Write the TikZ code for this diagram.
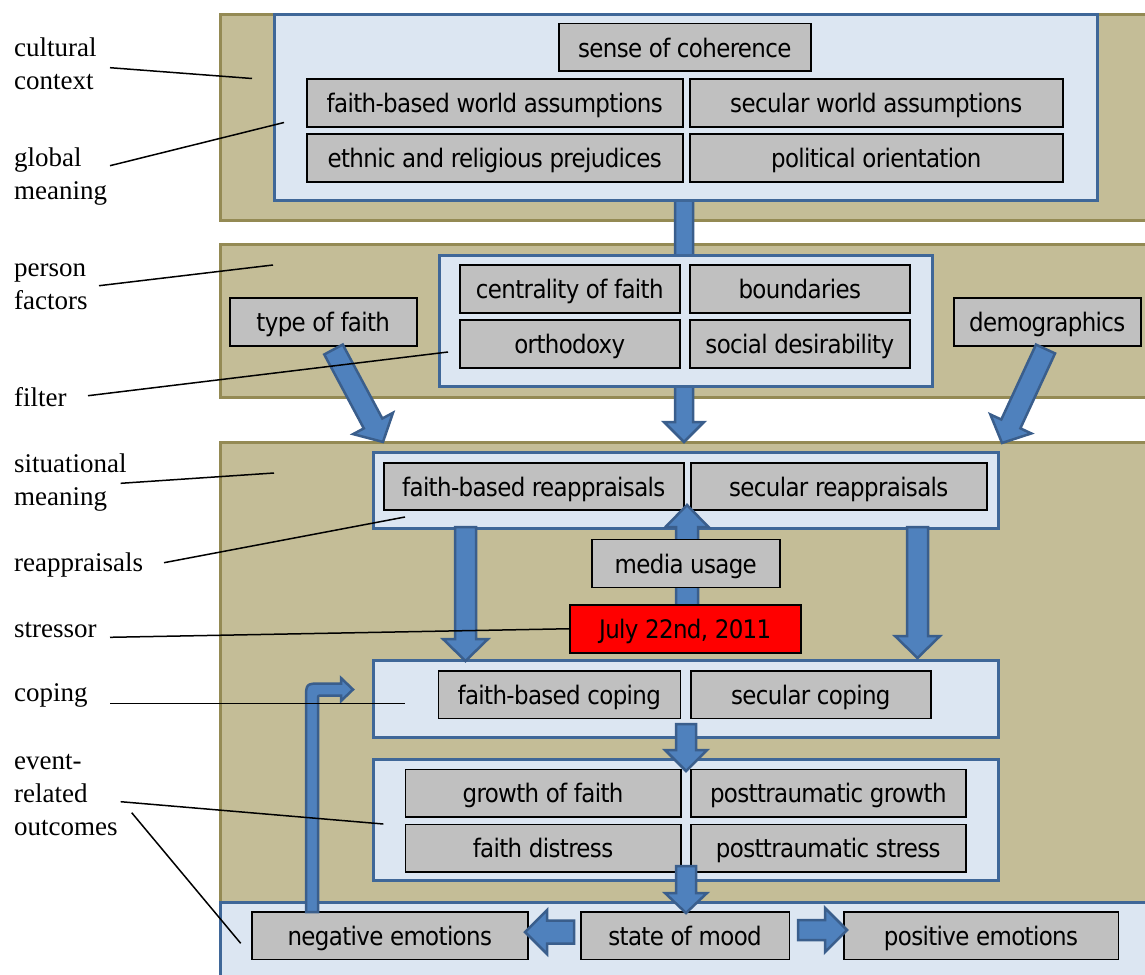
\documentclass[tikz,border=0pt]{standalone}
\usepackage{fontspec}
\setmainfont{Liberation Serif}
\newfontfamily\boxfont[LetterSpace=-2.5]{DejaVu Sans Condensed}
\usetikzlibrary{calc}
\definecolor{panelfill}{HTML}{C4BD97}
\definecolor{panelline}{HTML}{948A54}
\definecolor{bbfill}{HTML}{DCE6F2}
\definecolor{bbline}{HTML}{3F6798}
\definecolor{gfill}{HTML}{C0C0C0}
\definecolor{arrfill}{HTML}{4F81BD}
\definecolor{arrline}{HTML}{3A5E8C}
\newcommand\twol[2]{\vtop{\baselineskip=33pt\hbox{#1}\hbox{#2}}}
\newcommand\threel[3]{\vtop{\baselineskip=33pt\hbox{#1}\hbox{#2}\hbox{#3}}}
\tikzset{
  panel/.style={rectangle, draw=panelline, fill=panelfill, line width=3pt, inner sep=0pt, anchor=north west},
  bbox/.style={rectangle, draw=bbline, fill=bbfill, line width=3pt, inner sep=0pt, anchor=north west},
  gbox/.style={rectangle, draw=black, fill=gfill, line width=1.5pt, inner sep=0pt, anchor=north west,
    font=\boxfont\fontsize{25.5}{29}\selectfont, text height=19.8pt, text depth=0pt},
  rbox/.style={gbox, fill=red},
  lbl/.style={inner sep=0pt, anchor=base west, font=\fontsize{27}{33}\selectfont},
  pointer/.style={draw=black, line width=1.5pt},
  barr/.style={fill=arrfill, draw=arrline, line width=2.5pt, line join=miter}
}
% block arrow: start, end, shaft half width, head half width, head length
\newcommand\barrow[5]{%
  \draw[barr] let \p1=(#1), \p2=(#2), \n1={atan2(\y2-\y1,\x2-\x1)}, \n2={veclen(\x2-\x1,\y2-\y1)} in
    [shift={(\p1)}, rotate=\n1]
    (0pt,#3pt) -- ({\n2-#5pt},#3pt) -- ({\n2-#5pt},#4pt) -- (\n2,0pt) -- ({\n2-#5pt},-#4pt)
    -- ({\n2-#5pt},-#3pt) -- (0pt,-#3pt) -- cycle;}
\begin{document}
\begin{tikzpicture}[x=1pt,y=-1pt]
\useasboundingbox (0,0) rectangle (1145,974);
\clip (0,0) rectangle (1145,974);

% panels
\node[panel, minimum width=941pt, minimum height=206pt] (p1) at (219,12.7) {};
\node[panel, minimum width=941pt, minimum height=152.5pt] (p2) at (219,243.3) {};
\node[panel, minimum width=941pt, minimum height=470pt] (p3) at (219,440.5) {};

% arrow from global meaning to reappraisals (behind filter)
\coordinate (a1s) at (684,199);
\coordinate (a1e) at (684,442);
\barrow{a1s}{a1e}{9}{20}{20}

% blue boxes
\node[bbox, minimum width=823pt, minimum height=186.3pt] (gm) at (273,12.7) {};
\node[bbox, minimum width=493.3pt, minimum height=131pt] (filt) at (437.7,254) {};
\node[bbox, minimum width=625pt, minimum height=76pt] (rea) at (372,451) {};
\node[bbox, minimum width=625pt, minimum height=77pt] (cop) at (372,659) {};
\node[bbox, minimum width=625pt, minimum height=120.5pt] (out) at (372,758) {};
\node[bbox, minimum width=941pt, minimum height=100pt] (bp) at (219,900.5) {};

% gray boxes
\node[gbox, minimum width=252pt, minimum height=47pt] (sc) at (558,23) {sense of coherence};
\node[gbox, minimum width=376pt, minimum height=48pt] (fbwa) at (306,78) {faith-based world assumptions};
\node[gbox, minimum width=373pt, minimum height=48pt] (swa) at (689,78) {secular world assumptions};
\node[gbox, minimum width=376pt, minimum height=48pt] (erp) at (306,133) {ethnic and religious prejudices};
\node[gbox, minimum width=373pt, minimum height=48pt] (po) at (689,133) {political orientation};
\node[gbox, minimum width=220pt, minimum height=48pt] (cof) at (459,264) {centrality of faith};
\node[gbox, minimum width=220pt, minimum height=48pt] (bnd) at (689,264) {boundaries};
\node[gbox, minimum width=220pt, minimum height=48pt] (orth) at (459,319) {orthodoxy};
\node[gbox, minimum width=220pt, minimum height=48pt] (sd) at (689,319) {social desirability};
\node[gbox, minimum width=187pt, minimum height=48pt] (tof) at (229,297) {type of faith};
\node[gbox, minimum width=187pt, minimum height=48pt] (demo) at (953,297) {demographics};
\node[gbox, minimum width=300pt, minimum height=47pt] (fbr) at (383,462) {faith-based reappraisals};
\node[gbox, minimum width=296pt, minimum height=47pt] (sr) at (690,462) {secular reappraisals};
\node[gbox, minimum width=242pt, minimum height=47.5pt] (fbc) at (437.5,670) {faith-based coping};
\node[gbox, minimum width=240pt, minimum height=47.5pt] (sco) at (690,670) {secular coping};
\node[gbox, minimum width=275.5pt, minimum height=47.5pt] (gof) at (404.5,768.5) {growth of faith};
\node[gbox, minimum width=275pt, minimum height=47.5pt] (ptg) at (690,768.5) {posttraumatic growth};
\node[gbox, minimum width=275.5pt, minimum height=47.5pt] (fd) at (404.5,823.5) {faith distress};
\node[gbox, minimum width=275pt, minimum height=47.5pt] (pts) at (690,823.5) {posttraumatic stress};
\node[gbox, minimum width=276pt, minimum height=47.5pt] (neg) at (251,911) {negative emotions};
\node[gbox, minimum width=208.5pt, minimum height=47.5pt] (mood) at (580,911) {state of mood};
\node[gbox, minimum width=274.5pt, minimum height=47.5pt] (pos) at (843,911) {positive emotions};

% arrows
\coordinate (a2s) at (333.5,349.5); \coordinate (a2e) at (383,442);
\barrow{a2s}{a2e}{10.5}{22.6}{21}
\coordinate (a3s) at (1045.5,349); \coordinate (a3e) at (1002,443);
\barrow{a3s}{a3e}{10.5}{22.6}{21}
\coordinate (a4s) at (465.5,527); \coordinate (a4e) at (465.5,661);
\barrow{a4s}{a4e}{10.5}{22.5}{22}
\coordinate (a5s) at (917.5,527); \coordinate (a5e) at (917.5,658);
\barrow{a5s}{a5e}{10.5}{22.5}{22}
\coordinate (a6s) at (687,610); \coordinate (a6e) at (687,505);
\barrow{a6s}{a6e}{11}{21.5}{22}
\coordinate (a7s) at (686,724); \coordinate (a7e) at (686,771);
\barrow{a7s}{a7e}{10}{21}{21}
\coordinate (a8s) at (686,866); \coordinate (a8e) at (686,913);
\barrow{a8s}{a8e}{10}{21}{20}
\coordinate (a9s) at (574,932); \coordinate (a9e) at (525,932);
\barrow{a9s}{a9e}{11.5}{22}{22}
\coordinate (a10s) at (798,930); \coordinate (a10e) at (847,930);
\barrow{a10s}{a10e}{10}{22}{22}
% bent feedback arrow from negative emotions to coping
\draw[barr] (306,912) -- (306,699.5) .. controls (306,683.5) .. (322,683.5)
  -- (341,683.5) -- (341,678) -- (353,689.5) -- (341,701) -- (341,695.5)
  -- (322,695.5) .. controls (318,695.5) .. (318,699.5) -- (318,912) -- cycle;

% media usage and stressor
\node[gbox, minimum width=188pt, minimum height=48pt] (media) at (591,538.5) {media usage};
\node[rbox, minimum width=231pt, minimum height=48pt] (july) at (569,604) {July 22nd, 2011};

% left labels
\node[lbl] (lcult) at (14,56.7) {\twol{cultural}{context}};
\node[lbl] (lglob) at (14,166.7) {\twol{global}{meaning}};
\node[lbl] (lpers) at (14,276.7) {\twol{person}{factors}};
\node[lbl] (lfilt) at (14,406.7) {filter};
\node[lbl] (lsit) at (14,472.7) {\twol{situational}{meaning}};
\node[lbl] (lreap) at (14,571.7) {reappraisals};
\node[lbl] (lstr) at (14,637.7) {stressor};
\node[lbl] (lcop) at (14,701) {coping};
\node[lbl] (lout) at (14,769) {\threel{event-}{related}{outcomes}};

% pointer lines
\coordinate (q1a) at (110,67.7);   \coordinate (q1b) at (252,78.5);
\coordinate (q2a) at (110,165.7);  \coordinate (q2b) at (284,122.5);
\coordinate (q3a) at (99,285.7);   \coordinate (q3b) at (273,265);
\coordinate (q4a) at (88,395.7);   \coordinate (q4b) at (448,352);
\coordinate (q5a) at (120.7,483.3);\coordinate (q5b) at (274,473);
\coordinate (q6a) at (164,562.7);  \coordinate (q6b) at (405,517);
\coordinate (q7a) at (110,637.3);
\coordinate (q8a) at (110,703.3);  \coordinate (q8b) at (405,703.3);
\coordinate (q9a) at (120.7,801.7);\coordinate (q9b) at (383.3,824);
\coordinate (q10a) at (131.7,812.7);\coordinate (q10b) at (240.7,943.3);
\draw[pointer] (q1a) -- (q1b);
\draw[pointer] (q2a) -- (q2b);
\draw[pointer] (q3a) -- (q3b);
\draw[pointer] (q4a) -- (q4b);
\draw[pointer] (q5a) -- (q5b);
\draw[pointer] (q6a) -- (q6b);
\draw[pointer] (q7a) -- (july.west);
\draw[pointer] (q8a) -- (q8b);
\draw[pointer] (q9a) -- (q9b);
\draw[pointer] (q10a) -- (q10b);
\end{tikzpicture}
\end{document}
